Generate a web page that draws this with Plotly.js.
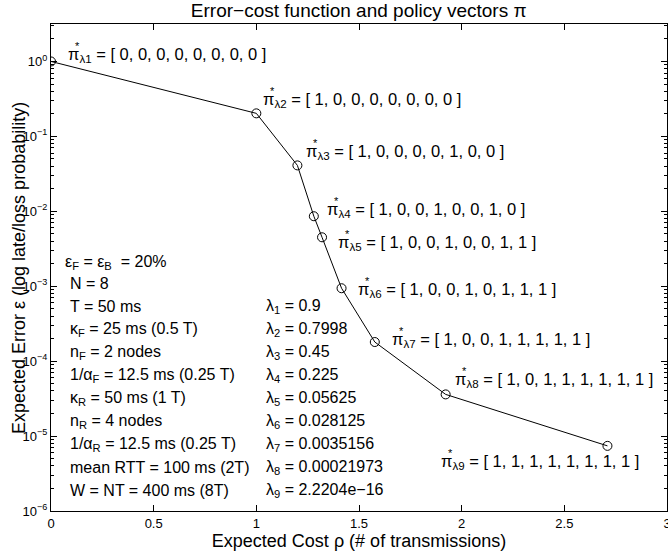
<!DOCTYPE html>
<html>
<head>
<meta charset="utf-8">
<script src="https://cdn.plot.ly/plotly-3.0.1.min.js"></script>
<style>html,body{margin:0;padding:0;background:#fff;}#chart{width:668px;height:556px;}</style>
</head>
<body>
<div id="chart"></div>
<script>
// ---- data ----
const cost  = [0, 1.0, 1.20, 1.28, 1.32, 1.415, 1.577, 1.922, 2.71];
const error = [1.0, 0.203, 0.041, 0.0086, 0.0045, 0.00094, 0.00018, 0.000036, 0.0000074];
const policyLabels = [
  '[ 0, 0, 0, 0, 0, 0, 0, 0 ]',
  '[ 1, 0, 0, 0, 0, 0, 0, 0 ]',
  '[ 1, 0, 0, 0, 0, 1, 0, 0 ]',
  '[ 1, 0, 0, 1, 0, 0, 1, 0 ]',
  '[ 1, 0, 0, 1, 0, 0, 1, 1 ]',
  '[ 1, 0, 0, 1, 0, 1, 1, 1 ]',
  '[ 1, 0, 0, 1, 1, 1, 1, 1 ]',
  '[ 1, 0, 1, 1, 1, 1, 1, 1 ]',
  '[ 1, 1, 1, 1, 1, 1, 1, 1 ]'
];
const lambdaValues = ['0.9', '0.7998', '0.45', '0.225', '0.05625', '0.028125', '0.0035156', '0.00021973', '2.2204e\u221216'];
const paramLines = [
  '\u03b5<sub>F</sub> = \u03b5<sub>B</sub>  = 20%',
  'N = 8',
  'T = 50 ms',
  '\u03ba<sub>F</sub> = 25 ms (0.5 T)',
  'n<sub>F</sub> = 2 nodes',
  '1/\u03b1<sub>F</sub> = 12.5 ms (0.25 T)',
  '\u03ba<sub>R</sub> = 50 ms (1 T)',
  'n<sub>R</sub> = 4 nodes',
  '1/\u03b1<sub>R</sub> = 12.5 ms (0.25 T)',
  'mean RTT = 100 ms (2T)',
  'W = NT = 400 ms (8T)'
];
const xTickVals = [0, 0.5, 1, 1.5, 2, 2.5, 3];
const xTickText = ['0', '0.5', '1', '1.5', '2', '2.5', '3'];
const yTickVals = [1e-6, 1e-5, 1e-4, 1e-3, 1e-2, 1e-1, 1];
const yTickText = ['10<sup>\u22126</sup>', '10<sup>\u22125</sup>', '10<sup>\u22124</sup>', '10<sup>\u22123</sup>', '10<sup>\u22122</sup>', '10<sup>\u22121</sup>', '10<sup>0</sup>'];

// ---- styling / placement ----
const FONT = 'Liberation Sans, Arial, Helvetica, sans-serif';
// label offsets (px) relative to each point
const labelShift = [[15,6],[5,13],[7,13],[11,6],[14,-6],[14,-2],[15,2],[7,14],[-168,-16]];

const minorVals = [];
for (let e = -6; e <= 0; e++) for (let m = 2; m <= 9; m++) { const v = m * Math.pow(10, e); if (v < 3.2) minorVals.push(v); }

const annotations = [];
for (let i = 0; i < cost.length; i++) {
  const [dx, dy] = labelShift[i];
  annotations.push({
    x: cost[i], y: Math.log10(error[i]), xref: 'x', yref: 'y',
    text: '\u03c0<sub>\u03bb' + (i + 1) + '</sub> = ' + policyLabels[i],
    showarrow: false, xanchor: 'left', yanchor: 'middle',
    xshift: dx, yshift: dy, font: {family: FONT, size: 16.5, color: '#000'}
  });
  annotations.push({
    x: cost[i], y: Math.log10(error[i]), xref: 'x', yref: 'y',
    text: '*', showarrow: false, xanchor: 'left', yanchor: 'middle',
    xshift: dx + 7, yshift: dy + 9, font: {family: FONT, size: 11, color: '#000'}
  });
}
// parameter text (paper coords from plot-area pixels)
const plotL = 51, plotR = 667, plotT = 24, plotB = 511;
const px2x = p => (p - plotL) / (plotR - plotL);
const px2y = p => (plotB - p) / (plotB - plotT);
const rowY = [262, 284, 306, 329, 352, 375, 398, 421, 444, 467, 490];
paramLines.forEach((t, i) => {
  annotations.push({
    x: px2x(i === 0 ? 63 : 68), y: px2y(rowY[i]), xref: 'paper', yref: 'paper',
    text: t, showarrow: false, xanchor: 'left', yanchor: 'middle',
    font: {family: FONT, size: 16, color: '#000'}
  });
});
lambdaValues.forEach((t, i) => {
  annotations.push({
    x: px2x(264), y: px2y(rowY[i + 2]), xref: 'paper', yref: 'paper',
    text: '\u03bb<sub>' + (i + 1) + '</sub> = ' + t, showarrow: false, xanchor: 'left', yanchor: 'middle',
    font: {family: FONT, size: 16, color: '#000'}
  });
});
// y-axis title as a rotated annotation
annotations.push({
  x: px2x(19), y: px2y(268), xref: 'paper', yref: 'paper', textangle: -90,
  text: 'Expected Error \u03b5 (log late/loss probability)', showarrow: false,
  xanchor: 'center', yanchor: 'middle', font: {family: FONT, size: 18, color: '#000'}
});

const trace = {
  x: cost, y: error, type: 'scatter', mode: 'lines+markers',
  line: {color: '#000', width: 1},
  marker: {symbol: 'circle-open', size: 9, color: '#000', line: {width: 1, color: '#000'}},
  hoverinfo: 'skip'
};

const layout = {
  width: 668, height: 556,
  margin: {l: plotL, r: 668 - plotR, t: plotT, b: 556 - plotB},
  paper_bgcolor: '#fff', plot_bgcolor: '#fff',
  showlegend: false,
  title: {text: 'Error\u2212cost function and policy vectors \u03c0', x: 0.537, xanchor: 'center', y: 0.981, yanchor: 'middle',
          font: {family: FONT, size: 19, color: '#000'}},
  xaxis: {
    range: [0, 3], tickvals: xTickVals, ticktext: xTickText,
    ticks: 'inside', ticklen: 6, tickcolor: '#000', tickwidth: 1,
    showline: true, linecolor: '#000', linewidth: 1, mirror: 'ticks',
    showgrid: false, zeroline: false, ticklabeloverflow: 'allow',
    tickfont: {family: FONT, size: 13, color: '#000'},
    title: {text: 'Expected Cost \u03c1 (# of transmissions)', font: {family: FONT, size: 18, color: '#000'}, standoff: 3}
  },
  yaxis: {
    type: 'log', range: [-6, 0.5], tickvals: yTickVals, ticktext: yTickText,
    ticks: 'inside', ticklen: 6, tickcolor: '#000', tickwidth: 1,
    showline: true, linecolor: '#000', linewidth: 1, mirror: 'ticks',
    showgrid: false, zeroline: false,
    tickfont: {family: FONT, size: 13, color: '#000'},
    minor: {tickvals: minorVals, ticks: 'inside', ticklen: 3, tickcolor: '#000', showgrid: false}
  },
  annotations: annotations
};

Plotly.newPlot('chart', [trace], layout, {displayModeBar: false, staticPlot: true});
</script>
</body>
</html>
